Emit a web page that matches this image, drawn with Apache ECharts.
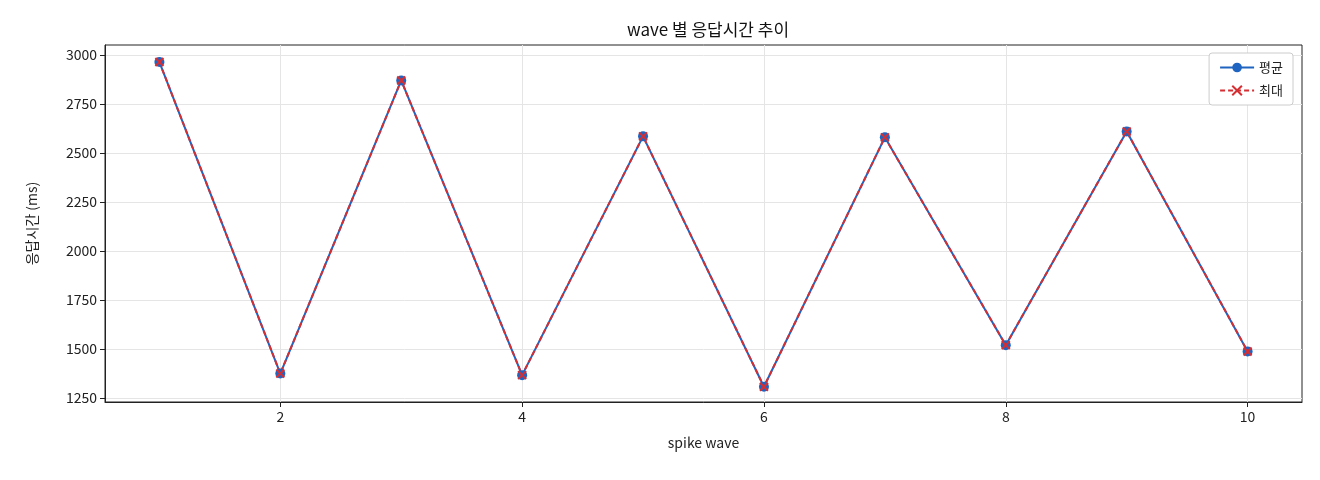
<!DOCTYPE html>
<html><head><meta charset="utf-8">
<script src="https://cdn.jsdelivr.net/npm/echarts@6/dist/echarts.min.js"></script>
<style>html,body{margin:0;background:#fff}#c{width:1320px;height:480px}</style>
</head><body><div id="c"></div>
<script>
const waves = [1,2,3,4,5,6,7,8,9,10];
const avgMs = [2964,1375,2870,1367,2585,1308,2580,1520,2610,1488];
const maxMs = [2964,1375,2870,1367,2585,1308,2580,1520,2610,1488];
const xTicks = [2,4,6,8,10];
const yTicks = [1250,1500,1750,2000,2250,2500,2750,3000];
const F = '"Noto Sans CJK KR", "DejaVu Sans", sans-serif';
const chart = echarts.init(document.getElementById('c'));
chart.setOption({
  animation:false,
  title:{text:'wave 별 응답시간 추이',left:703,top:16,textAlign:'center',textStyle:{fontFamily:F,fontSize:17,fontWeight:'normal',color:'#111'}},
  grid:{left:105,right:18,top:45,bottom:78,show:true,borderColor:'#222',borderWidth:1},
  legend:{right:27,top:53,orient:'vertical',itemGap:10,backgroundColor:'#fff',borderColor:'#ccc',borderWidth:1,borderRadius:3,padding:[8,10],
    textStyle:{fontFamily:F,fontSize:13,color:'#222'},itemWidth:34,itemHeight:12},
  xAxis:{type:'value',min:0.55,max:10.45,name:'spike wave',nameLocation:'middle',nameGap:34,
    nameTextStyle:{fontFamily:F,fontSize:14,color:'#222'},
    axisLine:{onZero:false,lineStyle:{color:'#222'}},
    axisTick:{customValues:xTicks,lineStyle:{color:'#222'}},
    axisLabel:{customValues:xTicks,fontFamily:F,fontSize:14,color:'#222'},
    splitLine:{show:true,lineStyle:{color:'#e5e5e5'}}},
  yAxis:{type:'value',min:1230,max:3051,name:'응답시간 (ms)',nameLocation:'middle',nameGap:66,
    nameTextStyle:{fontFamily:F,fontSize:14,color:'#222'},
    axisLine:{show:true,lineStyle:{color:'#222'}},
    axisTick:{show:true,customValues:yTicks,lineStyle:{color:'#222'}},
    axisLabel:{customValues:yTicks,formatter:v=>String(v),fontFamily:F,fontSize:14,color:'#222'},
    splitLine:{show:true,lineStyle:{color:'#e5e5e5'}}},
  series:[
    {name:'평균',type:'line',data:waves.map((w,i)=>[w,avgMs[i]]),symbol:'circle',symbolSize:10,
      lineStyle:{color:'#1f64c0',width:2},itemStyle:{color:'#1f64c0'}},
    {name:'최대',type:'line',data:waves.map((w,i)=>[w,maxMs[i]]),
      symbol:'path://M0,0L10,10M10,0L0,10',symbolSize:8,
      lineStyle:{color:'#d62f33',width:2,type:[5,3]},itemStyle:{color:'#d62f33',borderColor:'#d62f33',borderWidth:2}}
  ]
});
</script></body></html>
